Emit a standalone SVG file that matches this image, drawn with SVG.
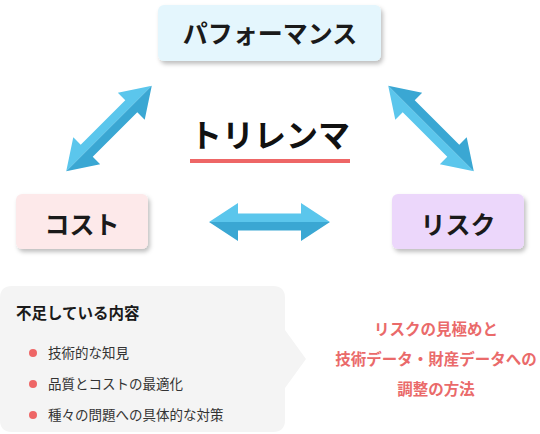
<svg xmlns="http://www.w3.org/2000/svg" width="540" height="434" viewBox="0 0 540 434">
<defs>
<filter id="sh" x="-10%" y="-20%" width="125%" height="150%">
<feDropShadow dx="2" dy="3" stdDeviation="2" flood-color="#000" flood-opacity="0.25"/>
</filter>
<g id="arrow">
<path class="al" d="M-60.5,0 L-31.5,-19 L-31.5,-8.5 L31.5,-8.5 L31.5,-19 L60.5,0 Z"/>
<path class="ad" d="M-60.5,0 L-31.5,19 L-31.5,8.5 L31.5,8.5 L31.5,19 L60.5,0 Z"/>
</g>
</defs>
<style>
text{font-family:"Noto Sans CJK JP","Noto Sans",sans-serif;}
.lbl{font-size:25px;font-weight:bold;fill:#1a1a1a;text-anchor:middle;}
.al{fill:#5bc6ec;}
.ad{fill:#3aa7d3;}
.bul{fill:#ee6666;}
.item{font-size:13.5px;fill:#333;}
.red{font-size:15.5px;font-weight:bold;fill:#ea6a6a;text-anchor:middle;}
</style>
<rect width="540" height="434" fill="#fff"/>
<g id="connectors">
<use href="#arrow" transform="translate(109,128.5) rotate(-45)"/>
<use href="#arrow" transform="translate(431,128.5) rotate(225)"/>
<use href="#arrow" transform="translate(269.5,222)"/>
</g>
<g id="node-performance">
<rect x="158" y="5" width="223" height="56" rx="6" fill="#e4f6fd" filter="url(#sh)"/>
<text class="lbl" x="270" y="43">パフォーマンス</text>
</g>
<g id="node-cost">
<rect x="16" y="194" width="132" height="55" rx="6" fill="#fde9ea" filter="url(#sh)"/>
<text class="lbl" x="82" y="234">コスト</text>
</g>
<g id="node-risk">
<rect x="392" y="194" width="132" height="55" rx="6" fill="#ecd7fb" filter="url(#sh)"/>
<text class="lbl" x="458" y="234">リスク</text>
</g>
<g id="title">
<text x="270" y="147" font-size="32" font-weight="bold" fill="#111" text-anchor="middle">トリレンマ</text>
<rect x="190" y="159" width="160" height="4" fill="#ee6666"/>
</g>
<g id="info-box">
<path d="M12,286 H273 Q285,286 285,298 V330 L306,359 L285,388 V420 Q285,432 273,432 H12 Q0,432 0,420 V298 Q0,286 12,286 Z" fill="#f4f4f4"/>
<text x="16" y="319" font-size="15.5" font-weight="bold" fill="#1a1a1a">不足している内容</text>
<circle class="bul" cx="33" cy="353" r="4"/>
<text class="item" x="48" y="358">技術的な知見</text>
<circle class="bul" cx="33" cy="384" r="4"/>
<text class="item" x="48" y="389">品質とコストの最適化</text>
<circle class="bul" cx="33" cy="415" r="4"/>
<text class="item" x="48" y="420">種々の問題への具体的な対策</text>
</g>
<g id="solution">
<text class="red" x="436" y="335">リスクの見極めと</text>
<text class="red" x="436" y="365">技術データ・財産データへの</text>
<text class="red" x="436" y="395">調整の方法</text>
</g>
</svg>
